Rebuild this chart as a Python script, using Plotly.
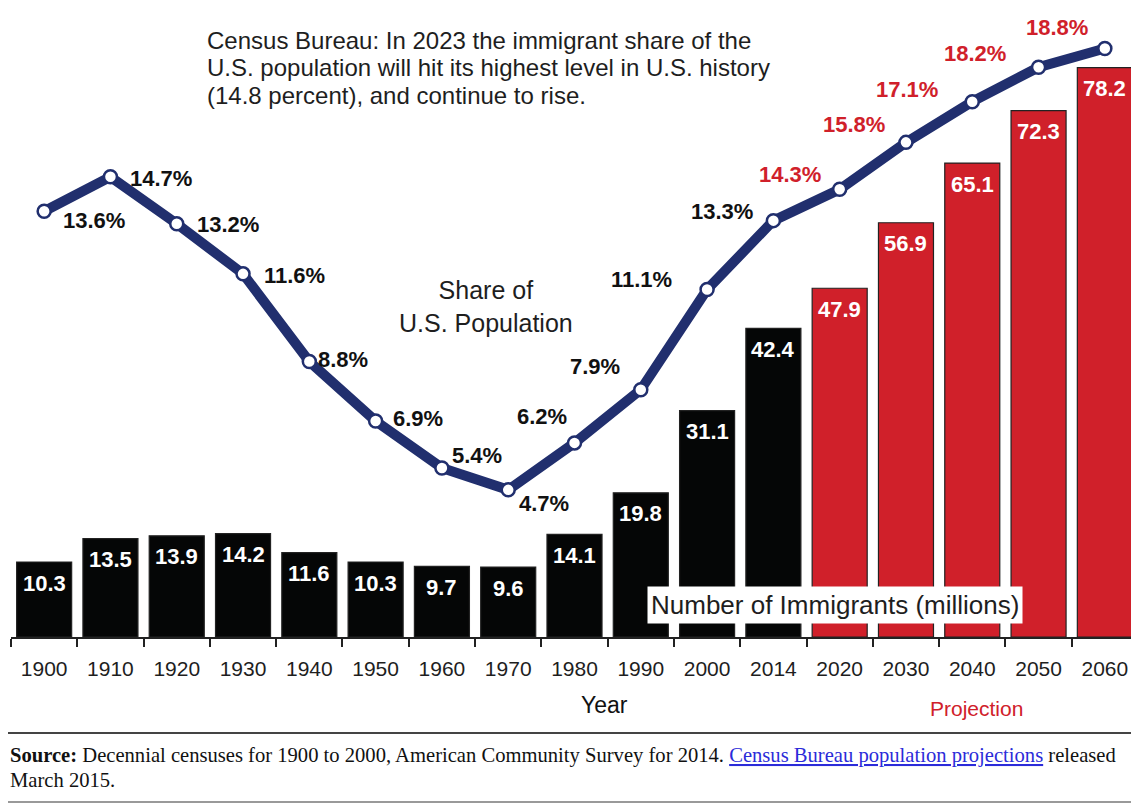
import plotly.graph_objects as go

# ---------------- data ----------------
years = ["1900", "1910", "1920", "1930", "1940", "1950", "1960", "1970", "1980",
         "1990", "2000", "2014", "2020", "2030", "2040", "2050", "2060"]
immigrants_millions = [10.3, 13.5, 13.9, 14.2, 11.6, 10.3, 9.7, 9.6, 14.1,
                       19.8, 31.1, 42.4, 47.9, 56.9, 65.1, 72.3, 78.2]
share_pct = [13.6, 14.7, 13.2, 11.6, 8.8, 6.9, 5.4, 4.7, 6.2,
             7.9, 11.1, 13.3, 14.3, 15.8, 17.1, 18.2, 18.8]
projection_years = ["2020", "2030", "2040", "2050", "2060"]

headline_lines = [
    "Census Bureau: In 2023 the immigrant share of the",
    "U.S. population will hit its highest level in U.S. history",
    "(14.8 percent), and continue to rise.",
]
source_lines = [
    "<b>Source:</b> Decennial censuses for 1900 to 2000, American Community Survey for 2014. "
    "<span style='color:#2b2bd9;text-decoration:underline'>Census Bureau population projections</span>"
    " released",
    "March 2015.",
]

# ---------------- styles ----------------
BLACK = "#050606"
RED = "#D0202A"
NAVY = "#212F6E"
TXT = "#1e1e1e"
FONT = "Liberation Sans, Arial, sans-serif"
SERIF = "Liberation Serif, Times New Roman, serif"

# label placement for percentage labels: (xanchor, xshift, yshift)
pct_label_place = [
    ("left", 17, -9), ("left", 18, -2), ("left", 18, -1), ("left", 19, -2),
    ("left", 7, 2), ("left", 15, 2), ("left", 8, 12), ("left", 9, -14),
    ("right", -6, 26), ("right", -19, 23), ("right", -33, 10), ("right", -18, 9),
    ("right", -17, 15), ("right", -19, 18), ("right", -32, 12), ("right", -31, 14),
    ("right", -15, 21),
]
headline_y = [1.0, 0.9531, 0.9062]      # paper y of each headline line
source_y = [-0.1977, -0.2395]           # paper y of each footer line

is_proj = [y in projection_years for y in years]
bar_colors = [RED if p else BLACK for p in is_proj]
idx = list(range(len(years)))  # category positions on the category axis

fig = go.Figure()
fig.add_trace(go.Bar(
    x=years, y=immigrants_millions,
    marker=dict(color=bar_colors, line=dict(color="#222222", width=1.2)),
    yaxis="y", hoverinfo="skip", showlegend=False,
))
fig.add_trace(go.Scatter(
    x=years, y=share_pct, yaxis="y2", mode="lines+markers",
    line=dict(color=NAVY, width=10),
    marker=dict(size=13, color="white", line=dict(color=NAVY, width=2.5)),
    hoverinfo="skip", showlegend=False,
))

annotations = []
# bar value labels
for i, v in zip(idx, immigrants_millions):
    annotations.append(dict(
        x=i, y=v, xref="x", yref="y", text=f"{v:.1f}", showarrow=False,
        xanchor="center", yanchor="middle", yshift=-21,
        font=dict(family=FONT, size=22, color="white", weight="bold"),
    ))
# percentage labels
for i, p, proj, (xa, dx, dy) in zip(idx, share_pct, is_proj, pct_label_place):
    annotations.append(dict(
        x=i, y=p, xref="x", yref="y2", text=f"{p:.1f}%", showarrow=False,
        xanchor=xa, yanchor="middle", xshift=dx, yshift=dy,
        font=dict(family=FONT, size=22, color=RED if proj else "#111111", weight="bold"),
    ))
# headline
for line, yy in zip(headline_lines, headline_y):
    annotations.append(dict(
        x=0.1721, y=yy, xref="paper", yref="paper", xanchor="left", yanchor="middle",
        showarrow=False, text=line, font=dict(family=FONT, size=24, color=TXT)))
# footer
for line, yy in zip(source_lines, source_y):
    annotations.append(dict(
        x=-0.0027, y=yy, xref="paper", yref="paper", xanchor="left", yanchor="middle",
        showarrow=False, text=line, font=dict(family=SERIF, size=20.6, color="#111111")))

annotations += [
    dict(x=0.4215, y=0.5544, xref="paper", yref="paper", xanchor="center", yanchor="middle",
         showarrow=False, text="Share of<br>U.S. Population", align="center",
         font=dict(family=FONT, size=25, color=TXT)),
    dict(x=0.7311, y=0.0536, xref="paper", yref="paper", xanchor="center", yanchor="middle",
         showarrow=False, text="Number of Immigrants (millions)", bgcolor="white", borderpad=3,
         font=dict(family=FONT, size=26, color=TXT)),
    dict(x=0.527, y=-0.1139, xref="paper", yref="paper", xanchor="center", yanchor="middle",
         showarrow=False, text="Year", font=dict(family=FONT, size=23, color="#111111")),
    dict(x=0.8563, y=-0.119, xref="paper", yref="paper", xanchor="center", yanchor="middle",
         showarrow=False, text="Projection", font=dict(family=FONT, size=21, color=RED)),
]

shapes = [
    dict(type="line", xref="paper", yref="paper", x0=-0.01, x1=1.002, y0=-0.1608, y1=-0.1608,
         line=dict(color="#444444", width=2)),
    dict(type="line", xref="paper", yref="paper", x0=-0.01, x1=1.002, y0=-0.2764, y1=-0.2764,
         line=dict(color="#999999", width=2)),
]

fig.update_layout(
    width=1131, height=796,
    margin=dict(l=3, r=1, t=32, b=167, pad=0),
    paper_bgcolor="white", plot_bgcolor="white",
    bargap=0.17,
    xaxis=dict(type="category", range=[-0.5, len(years) - 0.5], autorange=False,
               showline=True, linecolor="#222222", linewidth=2,
               ticks="outside", tickson="boundaries", ticklen=8, tickwidth=2,
               tickcolor="#222222", showgrid=False, zeroline=False,
               tickangle=0, ticklabelstandoff=12,
               tickfont=dict(family=FONT, size=21, color=TXT)),
    yaxis=dict(range=[0, 82.0], visible=False, showgrid=False, fixedrange=True),
    yaxis2=dict(range=[0, 19.07], overlaying="y", visible=False, showgrid=False),
    annotations=annotations,
    shapes=shapes,
)

fig.write_html("out.html")
